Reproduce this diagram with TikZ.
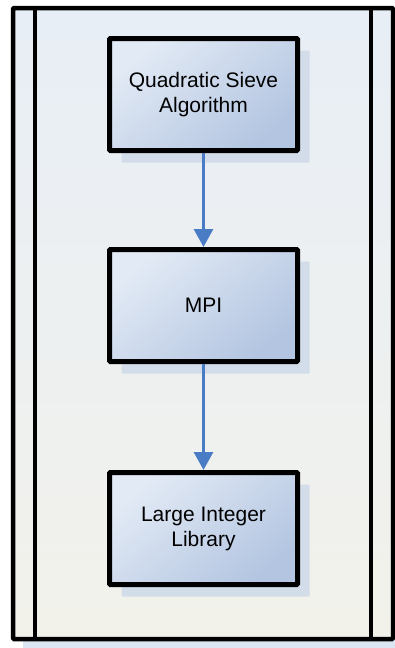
\documentclass[tikz,border=0pt]{standalone}
\usepackage{fontspec}
\setmainfont{Liberation Sans}
\usetikzlibrary{positioning, arrows.meta, shadows}
\definecolor{framelight}{HTML}{E8EEF6}
\definecolor{framecream}{HTML}{F2F2EB}
\definecolor{frameshade}{HTML}{DCE6F2}
\definecolor{boxlight}{HTML}{E2EAF5}
\definecolor{boxdark}{HTML}{B3C5E1}
\definecolor{boxshade}{HTML}{D2DDE9}
\definecolor{linkblue}{HTML}{4A7CC6}
\tikzset{layer node/.style={rectangle,draw=black,line width=5pt,rounded corners=1pt,
    top color=boxlight,bottom color=boxdark,shading angle=40,
    minimum width=188pt,minimum height=112pt,align=center,inner sep=0pt,
    font=\fontsize{21pt}{25pt}\selectfont,
    drop shadow={shadow xshift=12pt,shadow yshift=-12pt,fill=boxshade,opacity=1}}}
\tikzset{uses/.style={draw=linkblue,line width=3pt,
    -{Triangle[width=19pt,length=18pt,fill=linkblue]}}}

\begin{document}
\begin{tikzpicture}[x=1pt,y=-1pt]
        \useasboundingbox (0,0) rectangle (395,648);
        % frame with its side bands
        \fill[frameshade] (23,18) rectangle (403,650);
        \shade[top color=framelight,bottom color=framecream] (13,8) rectangle (393,639);
        \draw[line width=4.5pt,rounded corners=1pt] (13,8) rectangle (393,639);
        \draw[line width=4.5pt] (35,8) -- (35,639);
        \draw[line width=4.5pt] (371,8) -- (371,639);

        \node[layer node] (qs) at (203.5,94.5) {Quadratic Sieve\\Algorithm};
        \node[layer node] (mpi) [below = 94pt of qs] {MPI};
        \node[layer node] (lib) [below = 106pt of mpi] {Large Integer\\Library};

        \draw[uses] (qs) -- (mpi);
        \draw[uses] (mpi) -- (lib);
    \end{tikzpicture}
\end{document}
